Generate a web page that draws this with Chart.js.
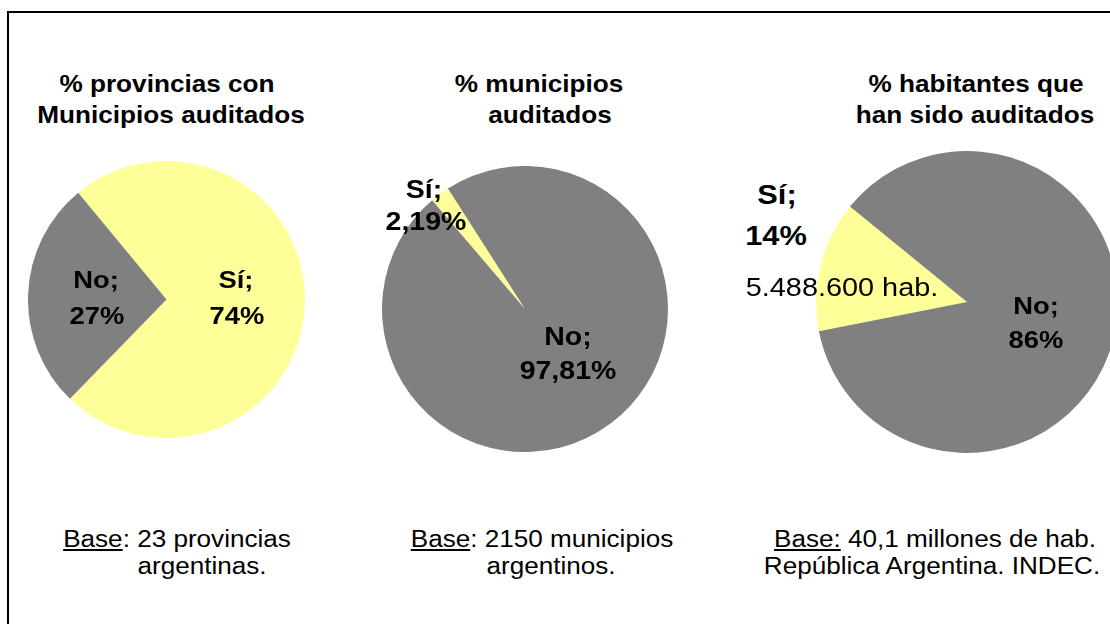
<!DOCTYPE html>
<html>
<head>
<meta charset="utf-8">
<script src="https://cdn.jsdelivr.net/npm/chart.js@4.4.1/dist/chart.umd.min.js"></script>
<style>
  html, body { margin: 0; padding: 0; background: #fff; }
  body { position: relative; width: 1110px; height: 624px; overflow: hidden;
         font-family: "Liberation Sans", Arial, sans-serif; color: #000; }
  #frame { position: absolute; left: 7px; top: 11px; width: 2000px; height: 2000px; border: 2px solid #000; }
  canvas { position: absolute; }
  .t { position: absolute; white-space: nowrap; transform-origin: 50% 0; }
</style>
</head>
<body>
<div id="frame"></div>
<canvas id="pie1" width="277" height="277" style="left:28px;top:161px"></canvas>
<canvas id="pie2" width="286" height="286" style="left:382px;top:166px"></canvas>
<canvas id="pie3" width="302" height="302" style="left:816px;top:151px"></canvas>
<script>
// data
const categories = ["Sí", "No"];
const provinciasPct = [74, 27];
const municipiosPct = [2.19, 97.81];
const habitantesPct = [14, 86];
const habitantesAuditados = "5.488.600 hab.";

const titles = [
  ["% provincias con", "Municipios auditados"],
  ["% municipios", "auditados"],
  ["% habitantes que", "han sido auditados"],
];
const notes = [
  ["<u>Base</u>: 23 provincias", "argentinas."],
  ["<u>Base</u>: 2150 municipios", "argentinos."],
  ["<u>Base:</u> 40,1 millones de hab.", "República Argentina. INDEC."],
];

const YELLOW = "#FFFF99";
const GRAY = "#808080";

function pie(id, values, rotation) {
  new Chart(document.getElementById(id), {
    type: "pie",
    data: {
      labels: categories,
      datasets: [{ data: values, backgroundColor: [YELLOW, GRAY], borderWidth: 0, hoverOffset: 0 }],
    },
    options: {
      responsive: false,
      animation: false,
      events: [],
      rotation: rotation,
      layout: { padding: 0 },
      plugins: { legend: { display: false }, tooltip: { enabled: false } },
    },
  });
}

pie("pie1", provinciasPct, 320.4);
pie("pie2", municipiosPct, 319.5);
pie("pie3", habitantesPct, 258.8);

// text placed by centre x and baseline y
function put(html, x, base, size, bold, sx) {
  const d = document.createElement("div");
  d.className = "t";
  d.innerHTML = html;
  d.style.fontSize = size + "px";
  d.style.lineHeight = size + "px";
  d.style.fontWeight = bold ? "bold" : "normal";
  d.style.left = x + "px";
  d.style.top = (base - 0.8465 * size) + "px";
  d.style.transform = "translateX(-50%) scaleX(" + sx + ")";
  document.body.appendChild(d);
}

const pct = v => String(v).replace(".", ",") + "%";

// titles
const titleX = [[166.5, 170.5], [539, 549.5], [976, 975]];
titles.forEach((lines, i) => {
  put(lines[0], titleX[i][0], 92, 24, true, 1.09);
  put(lines[1], titleX[i][1], 123, 24, true, 1.09);
});

// notes under the pies
const noteX = [[177, 202], [542, 551], [935, 931.5]];
notes.forEach((lines, i) => {
  put(lines[0], noteX[i][0], 548, 23.5, false, 1.11);
  put(lines[1], noteX[i][1], 575, 23.5, false, 1.11);
});

// slice labels
put(categories[1] + ";", 96, 288, 24, true, 1.14);
put(pct(provinciasPct[1]), 96.5, 324, 24, true, 1.14);
put(categories[0] + ";", 236, 288, 24, true, 1.14);
put(pct(provinciasPct[0]), 236.5, 324, 24, true, 1.14);

put(categories[0] + ";", 424, 198, 25, true, 1.14);
put(pct(municipiosPct[0]), 426, 230, 25, true, 1.14);
put(categories[1] + ";", 567.5, 345, 25, true, 1.14);
put(pct(municipiosPct[1]), 567.5, 379, 25, true, 1.14);

put(categories[0] + ";", 777, 205, 27, true, 1.14);
put(pct(habitantesPct[0]), 776, 246, 27, true, 1.14);
put(habitantesAuditados, 841.5, 296, 26, false, 1.11);
put(categories[1] + ";", 1035.5, 314, 24, true, 1.14);
put(pct(habitantesPct[1]), 1035.5, 348, 24, true, 1.14);
</script>
</body>
</html>
